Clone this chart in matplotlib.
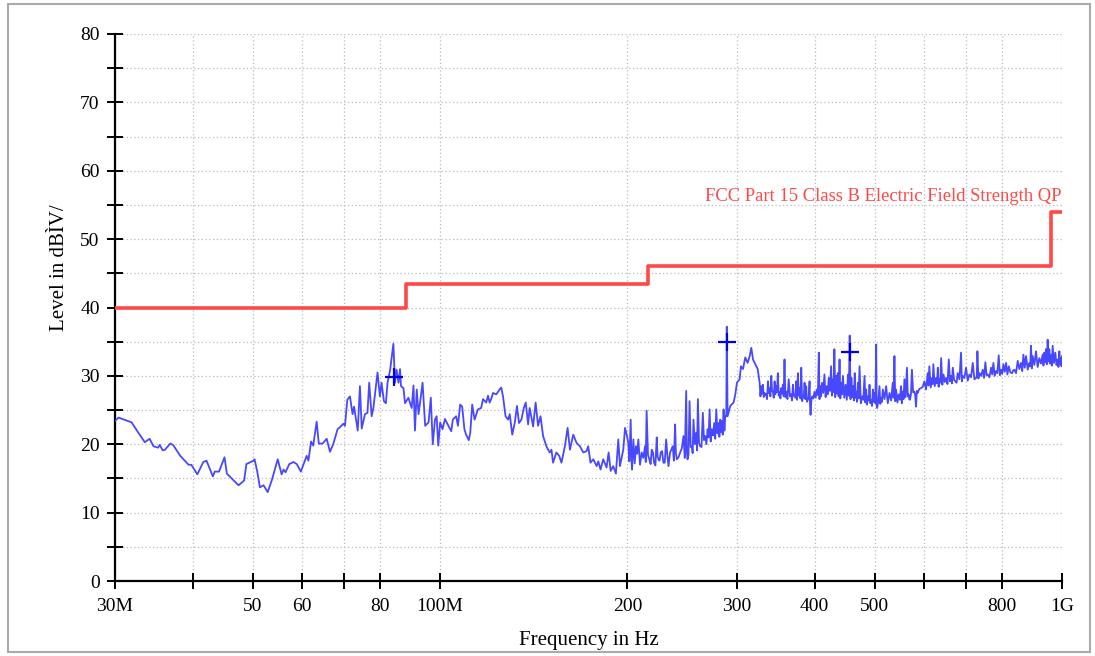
import matplotlib
matplotlib.use("Agg")
import matplotlib.pyplot as plt
from matplotlib.patches import Rectangle
from matplotlib.ticker import FixedLocator, FixedFormatter, MultipleLocator

plt.rcParams['font.family'] = ['Liberation Serif', 'DejaVu Serif']

freq_a = [30.0, 30.4, 31.9, 32.7, 33.5, 34.1, 34.6, 35.2, 35.4, 35.8, 36.1, 36.8, 37.2, 38.2,
          39.4, 39.8, 40.7, 41.6, 42.1, 43.1, 43.4, 44.1, 45.0, 45.4, 47.4, 48.4, 48.8, 50.1,
          50.3, 50.8, 51.3, 52.0, 52.8, 53.6, 54.8, 55.6, 56.0, 56.4, 57.2, 58.1, 58.8, 59.7,
          61.0, 61.4, 62.0, 62.5, 63.3, 63.8, 64.7, 65.7, 66.5, 67.3, 68.4, 69.0, 69.9, 70.3,
          70.9, 71.6, 72.3, 72.7, 73.7, 74.3, 74.8, 75.7, 76.4, 76.9, 77.6, 78.1, 79.3, 80.0,
          80.5, 81.2, 81.8, 82.3, 83.1, 84.1, 84.6, 85.1, 85.7, 86.2, 86.5, 87.3, 87.8, 88.9,
          90.0, 90.6, 91.1, 91.7, 92.3, 92.8, 93.7, 94.6, 95.8, 96.6, 97.3, 98.1, 98.7, 99.3,
          100.0, 100.9, 101.8, 103.1]
level_a = [23.4, 23.9, 23.2, 21.7, 20.3, 20.8, 19.7, 19.5, 19.9, 19.1, 19.2, 20.1, 19.9, 18.3,
           17.0, 17.0, 15.6, 17.4, 17.6, 15.3, 16.0, 16.0, 18.1, 15.7, 14.0, 14.7, 17.1, 17.6,
           17.8, 16.0, 13.7, 14.0, 13.0, 14.7, 17.8, 15.6, 16.3, 15.9, 17.1, 17.4, 17.1, 16.0,
           18.3, 17.6, 20.4, 19.8, 23.3, 20.1, 20.1, 20.8, 18.9, 20.0, 22.2, 22.5, 23.0, 22.7,
           26.5, 27.0, 24.4, 25.5, 22.0, 28.5, 22.3, 24.4, 24.6, 29.0, 24.1, 25.3, 30.5, 27.0,
           29.0, 26.3, 26.0, 29.0, 30.9, 34.7, 29.0, 30.9, 29.0, 31.0, 28.5, 28.2, 26.0, 26.8,
           25.3, 28.6, 22.0, 28.0, 24.4, 26.0, 29.0, 22.7, 23.2, 26.8, 20.0, 23.6, 24.1, 19.8,
           23.2, 22.2, 23.7, 22.7]

freq_b = [104.2, 104.8, 106.1, 106.8, 107.7, 108.5, 109.4, 110.1, 111.2, 111.8, 112.6, 113.6,
          115.0, 116.4, 117.2, 118.6, 119.4, 120.1, 120.8, 121.6, 123.1, 124.6, 125.4, 126.2,
          127.4, 128.6, 129.4, 130.6, 131.8, 132.9, 133.9, 135.1, 136.3, 137.3, 138.5, 139.3,
          141.1, 142.4, 143.7, 145.0, 146.4, 148.2, 150.0, 151.0, 151.9, 153.8, 155.4, 156.7,
          158.7, 160.3, 161.7, 163.7, 165.7, 167.8, 169.9, 172.0, 173.0, 174.5, 176.3, 178.5,
          179.6, 181.1, 182.9, 185.2, 186.6, 188.0, 189.8, 191.7, 193.4, 194.6, 197.0, 198.3,
          199.5, 200.7, 202.5, 203.5, 204.5, 206.5, 208.3, 210.9, 213.5, 214.8, 217.0, 218.9,
          220.8, 223.0, 224.4, 226.3, 228.6, 230.9, 232.9, 234.3, 236.6, 238.7, 240.2, 243.2,
          246.2, 248.7, 249.9, 251.8, 254.0, 255.5, 258.1, 259.7, 261.9, 264.5, 266.8, 269.2,
          271.2, 273.5, 275.9, 278.0, 280.4, 282.1, 283.9, 285.6, 287.4, 288.5, 289.0, 289.9,
          292.8, 296.4, 298.3, 300.1, 303.1, 304.6, 306.9, 309.5, 312.2, 314.6, 316.5, 318.5,
          321.3, 324.1]
level_b = [21.9, 23.6, 24.1, 22.7, 25.8, 25.5, 22.2, 21.4, 20.6, 21.7, 25.8, 23.6,
           25.1, 25.3, 26.6, 26.1, 27.1, 26.1, 26.6, 27.5, 27.3, 28.0, 28.3, 27.0,
           24.1, 23.6, 24.4, 21.4, 23.1, 25.6, 23.1, 23.6, 25.3, 26.1, 22.9, 25.3,
           22.6, 26.1, 22.7, 24.1, 21.2, 19.7, 18.8, 19.2, 17.3, 18.8, 18.3, 17.3,
           19.7, 22.4, 19.2, 21.4, 20.2, 19.7, 18.8, 19.0, 19.7, 17.3, 17.8, 16.8,
           17.5, 16.3, 17.8, 16.6, 18.8, 16.1, 16.8, 15.7, 20.7, 16.8, 19.2, 22.4,
           21.4, 20.2, 23.6, 16.3, 20.7, 19.7, 20.7, 18.8, 19.7, 24.9, 17.8, 19.2,
           17.3, 21.0, 17.8, 18.8, 17.3, 20.7, 16.8, 18.8, 19.7, 22.9, 17.8, 18.8,
           21.2, 27.8, 17.8, 26.3, 19.7, 23.6, 21.7, 26.6, 19.7, 24.6, 21.2, 22.2,
           25.1, 22.2, 23.1, 25.1, 23.1, 23.6, 23.4, 25.1, 24.1, 24.1, 37.2, 24.1,
           25.6, 26.1, 27.3, 29.0, 29.5, 31.4, 31.0, 32.7, 31.9, 32.9, 34.1, 32.4,
           31.7, 31.0]

# untere Huellkurve im dichten Bereich 200-290 MHz
freq_b_low = [201.5, 203.0, 205.5, 207.4, 209.6, 212.2, 214.1, 215.9, 218.0, 219.9,
              221.9, 223.7, 225.3, 227.4, 229.7, 231.9, 233.6, 235.4, 237.6, 239.4,
              241.7, 244.7, 247.4, 249.3, 250.8, 252.9, 254.7, 256.8, 258.9, 260.8,
              263.2, 265.6, 268.0, 270.2, 272.3, 274.7, 276.9, 279.2, 281.2, 283.0,
              284.7, 286.5]
level_b_low = [17.5, 18.2, 17.2, 18.6, 17.0, 18.0, 17.4, 18.4, 17.1, 18.8,
               16.9, 18.2, 17.6, 19.0, 17.3, 18.5, 17.8, 19.2, 17.6, 18.7,
               18.1, 19.4, 18.0, 19.0, 18.4, 19.6, 18.7, 20.0, 19.1, 20.2,
               19.6, 20.6, 20.0, 21.0, 20.4, 21.3, 20.8, 21.6, 21.1, 21.8,
               21.4, 22.0]

freq_c = [326.4, 328.4, 330.4, 332.5, 334.5, 336.6, 338.7, 340.8, 342.8, 345.0, 347.1, 349.2,
          351.4, 353.6, 355.7, 357.9, 360.2, 363.5, 366.9, 369.2, 371.4, 373.8, 376.1, 378.4,
          380.8, 383.1, 385.5, 387.8, 390.2, 392.7, 394.1, 396.6, 400.0, 403.5, 406.4, 408.4,
          411.3, 414.9, 418.5, 421.6, 425.3, 427.9, 430.5, 433.2, 435.9, 438.8, 441.5, 444.3,
          448.8, 452.7, 455.6, 458.5, 461.3, 464.2, 466.7, 469.6, 472.5, 477.2, 481.3, 484.3,
          487.3, 490.3, 493.4, 496.4, 499.5, 502.6, 504.4, 508.7, 511.9, 515.0, 521.4, 527.9,
          534.4, 537.7, 541.0, 546.4, 551.0, 554.5, 557.9, 563.2, 566.7, 569.5, 573.7, 578.8,
          582.4, 586.0, 593.3, 600.7, 608.2, 611.9, 618.0, 621.0, 627.4, 631.4, 635.3, 639.2,
          644.8, 651.2, 657.6, 663.3, 667.4, 674.1, 679.7, 688.1, 692.4, 701.0, 709.7, 718.6,
          727.5, 731.1, 736.5, 745.6, 753.0, 759.6, 769.0, 775.6, 783.3, 791.1, 798.0, 804.9,
          813.0, 821.1, 831.2, 838.4, 848.8, 859.3, 866.8, 875.3, 886.1, 891.6, 897.1, 908.2,
          919.4, 930.8, 936.6, 942.4, 948.3, 954.1, 960.0, 966.0, 975.6, 984.1, 990.2, 996.4,
          1000.0]
level_c = [29.0, 28.5, 28.7, 27.5, 27.3, 29.2, 28.2, 30.0, 27.7, 29.2, 28.5, 30.4,
           27.7, 28.2, 28.7, 32.4, 27.7, 29.5, 27.3, 28.7, 27.0, 29.2, 30.4, 28.2,
           31.2, 26.8, 29.0, 28.5, 26.5, 29.2, 24.3, 27.0, 27.7, 28.0, 33.4, 28.5,
           29.0, 30.2, 28.5, 29.7, 31.4, 29.5, 33.9, 30.0, 30.4, 32.4, 29.0, 30.0,
           28.7, 30.2, 35.9, 29.7, 28.5, 30.4, 27.7, 29.0, 31.4, 27.0, 30.0, 28.0,
           27.0, 28.7, 26.5, 28.0, 27.5, 34.6, 25.3, 28.5, 26.8, 28.0, 28.5, 27.5,
           29.0, 32.9, 28.0, 27.3, 28.5, 27.7, 29.5, 31.2, 27.3, 26.5, 30.9, 27.7,
           25.5, 27.5, 28.2, 29.2, 30.4, 31.4, 29.7, 31.7, 29.7, 31.2, 29.5, 32.6,
           30.2, 29.7, 32.4, 30.0, 31.2, 29.2, 30.4, 33.4, 30.0, 31.2, 30.2, 31.9,
           29.7, 33.6, 30.4, 30.9, 32.0, 30.2, 31.2, 31.9, 30.7, 33.0, 30.9, 31.7,
           31.9, 31.4, 30.4, 30.9, 32.2, 31.9, 33.1, 32.9, 31.9, 34.4, 32.9, 33.6,
           32.6, 33.1, 33.4, 33.9, 35.3, 33.9, 33.1, 34.4, 33.4, 32.4, 33.6, 32.6,
           32.9]

# untere Huellkurve 326 MHz - 1 GHz
freq_c_low = [327.4, 329.4, 331.4, 333.5, 335.5, 337.6, 339.7, 341.8, 343.9, 346.0, 348.1, 350.3,
              352.5, 354.6, 356.8, 359.0,
              361.8, 365.2, 368.0, 370.3, 372.6, 374.9, 377.2, 379.6, 382.0, 384.3, 386.6, 389.0,
              391.4, 393.4, 395.3, 398.3,
              401.7, 405.0, 407.4, 409.8, 413.1, 416.7, 420.0, 423.4, 426.6, 429.2,
              431.8, 434.5, 437.3, 440.1, 442.9, 446.5, 450.7, 454.1, 457.0, 459.9,
              462.7, 465.4, 468.1, 471.0, 474.8, 479.2, 482.8, 485.8, 488.8, 491.8,
              494.9, 497.9,
              501.0, 503.5, 506.5, 510.3, 513.4, 518.2, 524.6, 531.1, 536.0, 539.3, 543.7, 548.7,
              552.7, 556.2, 560.5,
              565.0, 568.1, 571.6, 576.2, 580.6, 584.2, 589.6, 597.0, 604.4, 610.0, 615.0, 619.5,
              624.2, 629.4, 633.3, 637.2, 642.0, 648.0, 654.4,
              660.4, 665.3, 670.7, 676.9, 683.9, 690.2, 696.7, 705.3, 714.1, 723.0, 729.3, 733.8,
              741.0, 749.3, 756.3, 764.3, 772.3, 779.4, 787.2, 794.5,
              801.4, 808.9, 817.0, 826.1, 834.8, 843.6, 854.0, 863.0, 871.0, 880.7, 888.8, 894.3,
              902.6, 913.8, 925.1, 933.7, 939.5, 945.3, 951.2, 957.0, 963.0, 970.8, 979.8, 987.1,
              993.3, 998.2]
level_c_low = [27.0, 27.4, 26.9, 27.2, 26.6, 27.5, 27.0, 27.8, 26.8, 27.3, 27.6, 27.1,
               26.7, 27.4, 27.0, 26.9,
               26.6, 27.0, 26.4, 27.2, 26.8, 26.5, 27.1, 26.7, 26.3, 26.9, 26.6, 26.2,
               26.8, 25.8, 26.4, 26.7,
               26.8, 27.2, 26.6, 27.0, 27.5, 26.9, 27.3, 27.8, 27.1, 27.6,
               26.9, 27.4, 27.0, 26.7, 27.3, 26.8, 26.5, 27.1, 26.6, 26.9,
               26.4, 26.8, 26.2, 26.7, 26.0, 26.5, 26.1, 25.8, 26.4, 26.0,
               25.6, 26.2,
               26.0, 25.6, 26.3, 25.9, 26.2, 26.6, 26.0, 26.4, 26.8, 26.3, 26.1, 26.5,
               26.0, 26.6, 26.9,
               27.0, 26.6, 27.3, 27.6, 27.2, 27.8, 28.1, 28.4, 28.0, 28.6, 28.3, 28.8,
               28.5, 28.9, 28.4, 29.0, 28.7, 29.1, 28.8,
               29.2, 28.9, 29.4, 29.0, 29.5, 29.2, 29.7, 29.3, 29.8, 29.5, 29.9, 29.6,
               30.0, 29.7, 30.1, 29.8, 30.2, 30.0, 30.4, 30.1,
               30.3, 30.6, 30.2, 30.5, 30.8, 30.4, 31.0, 30.7, 31.2, 30.9, 31.4, 31.1,
               31.6, 31.3, 31.8, 31.5, 32.0, 31.7, 32.1, 31.8, 31.5, 31.9, 31.6, 31.3,
               31.7, 31.4]

# Grenzwert FCC Part 15 Class B
limit_freq = [30, 88, 216, 960, 1000]
limit_level = [40, 43.5, 46, 54, 54]

# Marker (QP)
marker_freq = [84.2, 289.0, 455.6]
marker_level = [29.8, 35.0, 33.5]

xticks = [30, 40, 50, 60, 70, 80, 100, 200, 300, 400, 500, 600, 700, 800, 1000]
xticklabels = ['30M', '', '50', '60', '', '80', '100M', '200', '300', '400', '500', '', '', '800', '1G']

# alles nach Frequenz sortiert zusammenfuehren
pts = sorted(zip(freq_a + freq_b + freq_b_low + freq_c + freq_c_low,
                 level_a + level_b + level_b_low + level_c + level_c_low))
freq = [p[0] for p in pts]
level = [p[1] for p in pts]

fig = plt.figure(figsize=(10.95, 6.56), dpi=100)
ax = fig.add_axes([115/1095, 1 - 581/656, (1062-115)/1095, (581-34)/656])

ax.plot(freq, level, color='#4848ff', lw=1.3, zorder=3)
ax.plot(limit_freq, limit_level, color='#ff4848', lw=2.6, drawstyle='steps-post', zorder=4)
ax.plot(marker_freq, marker_level, ls='none', marker='+', ms=13, mew=1.6, color='#0000e6', zorder=5)

ax.text(997, 55.0, 'FCC Part 15 Class B Electric Field Strength QP', color='#ff4848',
        fontsize=13.4, ha='right', va='bottom')

ax.set_xscale('log')
ax.set_xlim(30, 1000)
ax.set_ylim(0, 80)
ax.xaxis.set_major_locator(FixedLocator(xticks))
ax.xaxis.set_major_formatter(FixedFormatter(xticklabels))
ax.xaxis.set_minor_locator(FixedLocator([]))
ax.yaxis.set_major_locator(MultipleLocator(10))
ax.yaxis.set_minor_locator(MultipleLocator(5))

for s in ['top', 'right']:
    ax.spines[s].set_visible(False)
for s in ['left', 'bottom']:
    ax.spines[s].set_linewidth(1.6)

ax.tick_params(axis='both', which='both', direction='inout', length=11, width=1.4, labelsize=14)
ax.tick_params(axis='x', pad=7)
ax.tick_params(axis='y', pad=5.5)

ax.grid(True, which='both', color='#bbbbbb', linestyle=(0, (1, 2)), lw=0.9)
ax.set_axisbelow(True)

ax.set_xlabel('Frequency in Hz', fontsize=15, labelpad=11)
fig.text(59/1095, 1 - 268/656, 'Level in dBÌV/', rotation=90, fontsize=15, ha='center', va='center')

fig.patches.append(Rectangle((8/1095, 4/656), 1082/1095, 648/656, transform=fig.transFigure,
                             fill=False, edgecolor='#aaaaaa', lw=1.5))

fig.savefig('out.png', dpi=100)
